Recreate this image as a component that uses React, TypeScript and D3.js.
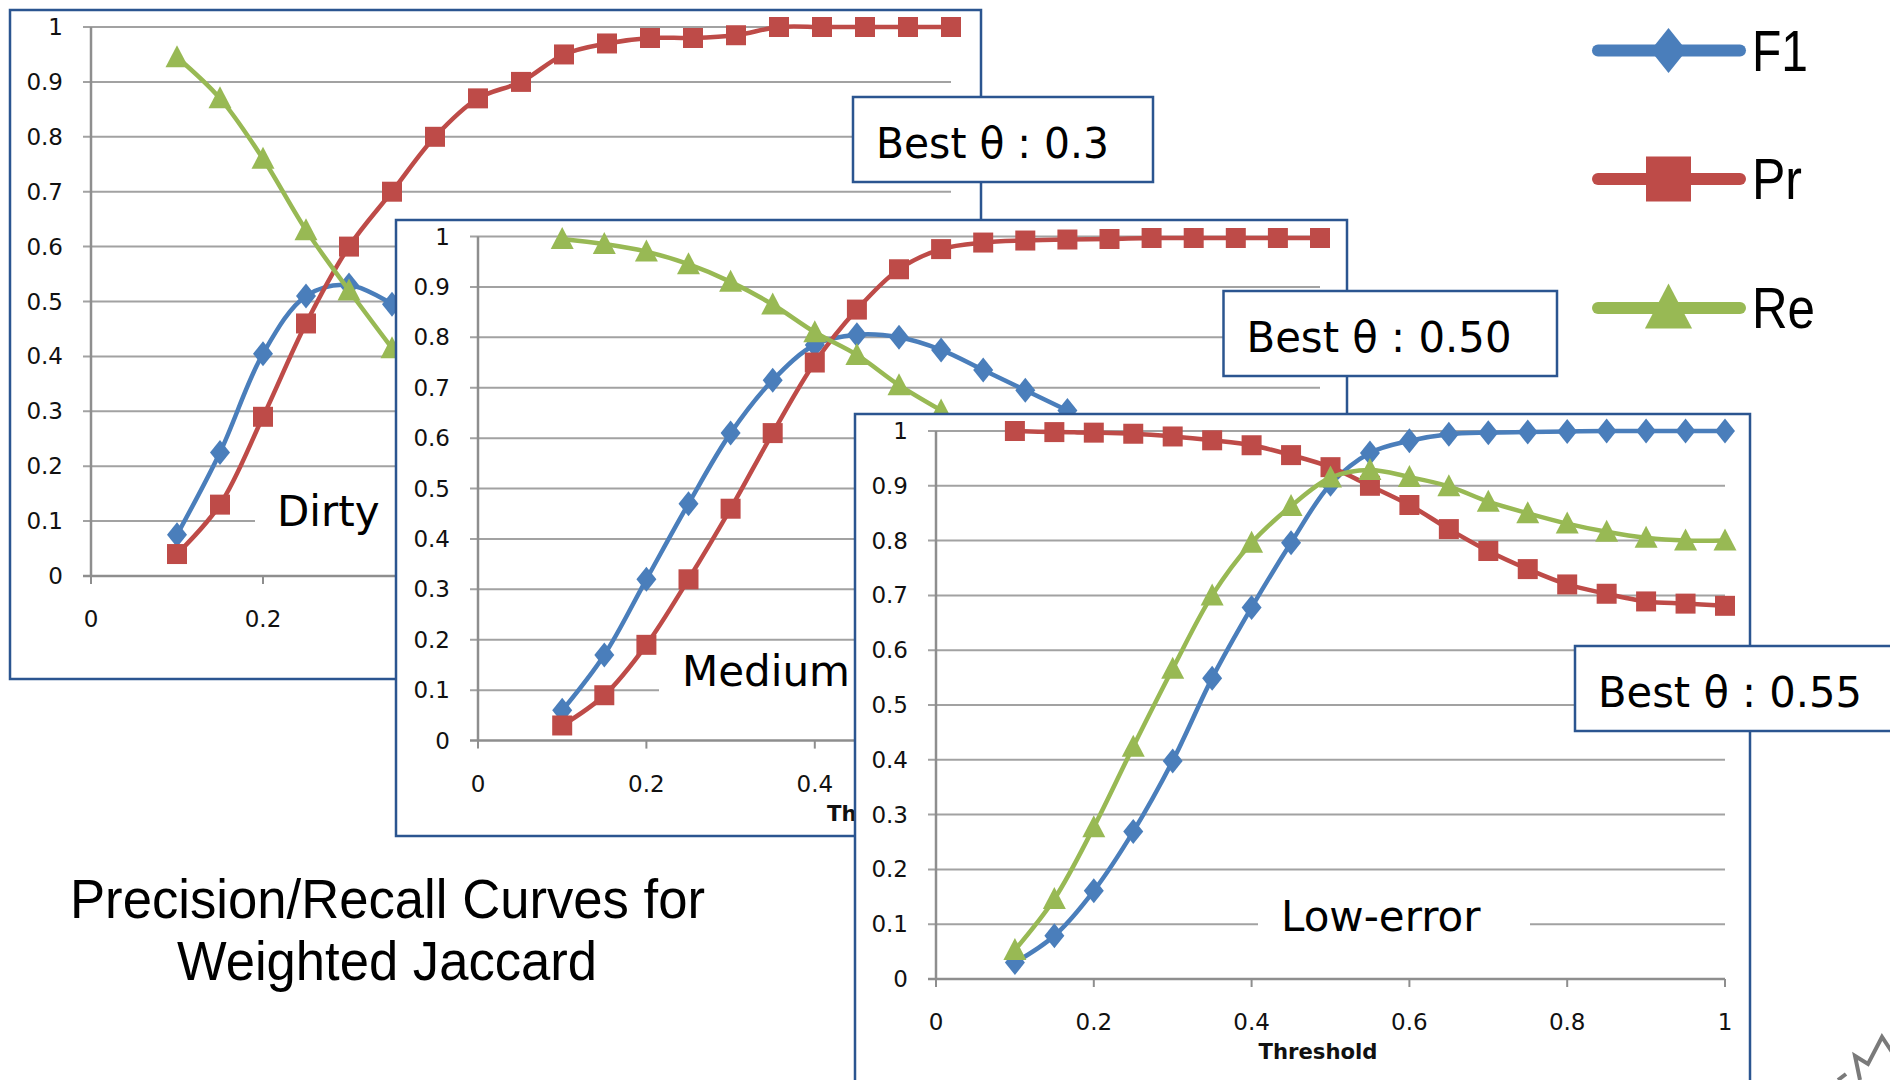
import React from "react";
import * as d3 from "d3";

// ---------------- DATA ----------------
const thresholds = [0.1, 0.15, 0.2, 0.25, 0.3, 0.35, 0.4, 0.45, 0.5, 0.55, 0.6, 0.65, 0.7, 0.75, 0.8, 0.85, 0.9, 0.95, 1.0];

// Dirty (parts of F1 / Re hidden under the Medium chart)
const dirtyF1 = [0.075, 0.225, 0.405, 0.51, 0.53, 0.495];
const dirtyPr = [0.04, 0.13, 0.29, 0.46, 0.6, 0.7, 0.8, 0.87, 0.9, 0.95, 0.97, 0.98, 0.98, 0.985, 1.0, 1.0, 1.0, 1.0, 1.0];
const dirtyRe = [0.945, 0.87, 0.76, 0.63, 0.52, 0.415];

// Medium (parts of F1 / Re hidden under the Low-error chart)
const mediumF1 = [0.06, 0.17, 0.32, 0.47, 0.61, 0.715, 0.785, 0.805, 0.8, 0.775, 0.735, 0.695, 0.655];
const mediumPr = [0.03, 0.09, 0.19, 0.32, 0.46, 0.61, 0.75, 0.855, 0.935, 0.975, 0.988, 0.992, 0.994, 0.995, 0.997, 0.997, 0.997, 0.997, 0.997];
const mediumRe = [0.995, 0.985, 0.97, 0.945, 0.91, 0.865, 0.81, 0.765, 0.705, 0.655];

// Low-error
const lowF1 = [0.03, 0.079, 0.161, 0.269, 0.398, 0.549, 0.678, 0.796, 0.903, 0.96, 0.982, 0.994, 0.997, 0.998, 0.999, 1.0, 1.0, 1.0, 1.0];
const lowPr = [1.0, 0.998, 0.997, 0.995, 0.99, 0.983, 0.974, 0.956, 0.934, 0.9, 0.865, 0.821, 0.781, 0.748, 0.72, 0.703, 0.689, 0.685, 0.681];
const lowRe = [0.053, 0.146, 0.277, 0.424, 0.566, 0.7, 0.796, 0.863, 0.915, 0.929, 0.916, 0.899, 0.871, 0.85, 0.831, 0.816, 0.805, 0.8, 0.8];

const yTickValues = [0, 0.1, 0.2, 0.3, 0.4, 0.5, 0.6, 0.7, 0.8, 0.9, 1];
const yTickLabels = ["0", "0.1", "0.2", "0.3", "0.4", "0.5", "0.6", "0.7", "0.8", "0.9", "1"];
const xTickValues = [0, 0.2, 0.4, 0.6, 0.8, 1];
const xTickLabels = ["0", "0.2", "0.4", "0.6", "0.8", "1"];

const seriesNames = ["F1", "Pr", "Re"];
const chartNames = ["Dirty", "Medium", "Low-error"];
const bestLabels = ["Best θ : 0.3", "Best θ : 0.50", "Best θ : 0.55"];
const titleLines = ["Precision/Recall Curves for", "Weighted Jaccard"];
const xAxisTitle = "Threshold";

// ---------------- STYLE ----------------
const COLORS = { F1: "#4a7ebb", Pr: "#be4b48", Re: "#98b954" };
const FRAME = "#2b5590";
const GRID = "#a2a2a2";
const AXIS = "#8e8e8e";
const TICK_FONT = "'DejaVu Sans', sans-serif";

type Marker = "diamond" | "square" | "triangle";
const markerOf: Record<string, Marker> = { F1: "diamond", Pr: "square", Re: "triangle" };

function markerPath(kind: Marker, cx: number, cy: number, s = 1) {
  if (kind === "diamond") {
    const w = 10 * s, h = 12.5 * s;
    return `M${cx},${cy - h}L${cx + w},${cy}L${cx},${cy + h}L${cx - w},${cy}Z`;
  }
  if (kind === "square") {
    const h = 10 * s;
    return `M${cx - h},${cy - h}H${cx + h}V${cy + h}H${cx - h}Z`;
  }
  const w = 11.5 * s;
  return `M${cx},${cy - 12 * s}L${cx + w},${cy + 10 * s}L${cx - w},${cy + 10 * s}Z`;
}

interface ChartProps {
  frame: [number, number, number, number];
  px: [number, number];
  py: [number, number];
  f1: number[];
  pr: number[];
  re: number[];
  name: string;
  nameX: number;
  nameBaseline: number;
  gap: [number, number];
  xLabelMax: number; // x tick labels beyond this value are hidden under the next chart
  showXTitle: boolean;
}

function Chart(p: ChartProps) {
  const x = d3.scaleLinear().domain([0, 1]).range(p.px);
  const y = d3.scaleLinear().domain([0, 1]).range(p.py);
  const line = d3
    .line<number>()
    .x((_, i) => x(thresholds[i]))
    .y((v) => y(v))
    .curve(d3.curveCatmullRom.alpha(0.5));
  const data: Record<string, number[]> = { F1: p.f1, Pr: p.pr, Re: p.re };
  const [fx, fy, fw, fh] = p.frame;
  const cx = (p.px[0] + p.px[1]) / 2;
  return (
    <g>
      <rect x={fx} y={fy} width={fw} height={fh} fill="#fff" stroke={FRAME} strokeWidth={2.5} />
      {yTickValues.slice(1).map((v) => (
        <line key={v} x1={x(0) - 8} x2={x(1)} y1={y(v)} y2={y(v)} stroke={GRID} strokeWidth={2} />
      ))}
      {/* gap in the 0.1 gridline behind the chart name */}
      <rect x={p.gap[0]} y={y(0.1) - 4} width={p.gap[1] - p.gap[0]} height={8} fill="#fff" />
      <line x1={x(0)} x2={x(0)} y1={y(1)} y2={y(0)} stroke={AXIS} strokeWidth={2.5} />
      <line x1={x(0) - 8} x2={x(1)} y1={y(0)} y2={y(0)} stroke={AXIS} strokeWidth={2.5} />
      {xTickValues.map((v) => (
        <line key={v} x1={x(v)} x2={x(v)} y1={y(0)} y2={y(0) + 8} stroke={AXIS} strokeWidth={2} />
      ))}
      {yTickValues.map((v, i) => (
        <text key={v} x={x(0) - 28} y={y(v) + 8} textAnchor="end" fontFamily={TICK_FONT} fontSize={23} fill="#111">
          {yTickLabels[i]}
        </text>
      ))}
      {xTickValues.map((v, i) =>
        v <= p.xLabelMax ? (
          <text key={v} x={x(v)} y={y(0) + 51} textAnchor="middle" fontFamily={TICK_FONT} fontSize={23} fill="#111">
            {xTickLabels[i]}
          </text>
        ) : null
      )}
      {p.showXTitle && (
        <text x={cx - 72} y={y(0) + 80} fontFamily={TICK_FONT} fontWeight="bold" fontSize={21} textLength={119} lengthAdjust="spacingAndGlyphs" fill="#111">
          {xAxisTitle}
        </text>
      )}
      {seriesNames.map((s) => (
        <g key={s}>
          <path d={line(data[s]) || ""} fill="none" stroke={COLORS[s as keyof typeof COLORS]} strokeWidth={4.5} strokeLinejoin="round" />
          {data[s].map((v, i) => (
            <path key={i} d={markerPath(markerOf[s], x(thresholds[i]), y(v))} fill={COLORS[s as keyof typeof COLORS]} />
          ))}
        </g>
      ))}
      <text x={p.nameX} y={p.nameBaseline} fontFamily={TICK_FONT} fontSize={42} fill="#000">
        {p.name}
      </text>
    </g>
  );
}

function BestBox({ x, y, w, label, textW }: { x: number; y: number; w: number; label: string; textW: number }) {
  return (
    <g>
      <rect x={x} y={y} width={w} height={85} fill="#fff" stroke={FRAME} strokeWidth={2.5} />
      <text x={x + 23} y={y + 61} fontFamily={TICK_FONT} fontSize={42} textLength={textW} lengthAdjust="spacingAndGlyphs" fill="#000">
        {label}
      </text>
    </g>
  );
}

function Legend() {
  const rows = [50.5, 179, 308];
  return (
    <g>
      {seriesNames.map((s, i) => {
        const cy = rows[i];
        const c = COLORS[s as keyof typeof COLORS];
        return (
          <g key={s}>
            <line x1={1598} x2={1740} y1={cy} y2={cy} stroke={c} strokeWidth={12} strokeLinecap="round" />
            <path d={markerPath(markerOf[s], 1668.5, cy, s === "F1" ? 1.8 : s === "Pr" ? 2.25 : 2.05)} fill={c} />
            <text x={1752} y={cy + 20} fontFamily="'Liberation Sans', Arial, sans-serif" fontSize={58} textLength={[56, 50, 63][i]} lengthAdjust="spacingAndGlyphs" fill="#000">
              {s}
            </text>
          </g>
        );
      })}
    </g>
  );
}

export default function App() {
  return (
    <svg width={1890} height={1080} style={{ position: "absolute", left: 0, top: 0, background: "#fff" }}>
      <rect x={0} y={0} width={1890} height={1080} fill="#fff" />
      <Chart
        frame={[10, 10, 971, 669]}
        px={[91, 951]}
        py={[576, 27]}
        f1={dirtyF1}
        pr={dirtyPr}
        re={dirtyRe}
        name={chartNames[0]}
        nameX={277}
        nameBaseline={526}
        gap={[255, 396]}
        xLabelMax={0.2}
        showXTitle={false}
      />
      <BestBox x={853} y={97} w={300} label={bestLabels[0]} textW={233} />
      <Chart
        frame={[396, 220, 951, 616]}
        px={[478, 1320]}
        py={[740.6, 236.5]}
        f1={mediumF1}
        pr={mediumPr}
        re={mediumRe}
        name={chartNames[1]}
        nameX={682}
        nameBaseline={686}
        gap={[659, 870]}
        xLabelMax={0.4}
        showXTitle={true}
      />
      <BestBox x={1223.5} y={291} w={333.5} label={bestLabels[1]} textW={265} />
      <Chart
        frame={[855, 414, 895, 700]}
        px={[936, 1725]}
        py={[979, 431]}
        f1={lowF1}
        pr={lowPr}
        re={lowRe}
        name={chartNames[2]}
        nameX={1281}
        nameBaseline={931}
        gap={[1258, 1530]}
        xLabelMax={1}
        showXTitle={true}
      />
      <BestBox x={1575} y={646} w={340} label={bestLabels[2]} textW={264} />
      <Legend />
      <g fontFamily="'Liberation Sans', Arial, sans-serif" fontSize={55} fill="#000">
        <text x={70} y={918} textLength={635} lengthAdjust="spacingAndGlyphs">{titleLines[0]}</text>
        <text x={177} y={980} textLength={420} lengthAdjust="spacingAndGlyphs">{titleLines[1]}</text>
      </g>
      <polyline points="1838,1080 1846,1074" fill="none" stroke="#7a7a7a" strokeWidth={4} />
      <polyline points="1860,1080 1855,1056 1868,1064 1882,1037 1892,1052" fill="none" stroke="#7a7a7a" strokeWidth={4} strokeLinejoin="miter" />
    </svg>
  );
}
